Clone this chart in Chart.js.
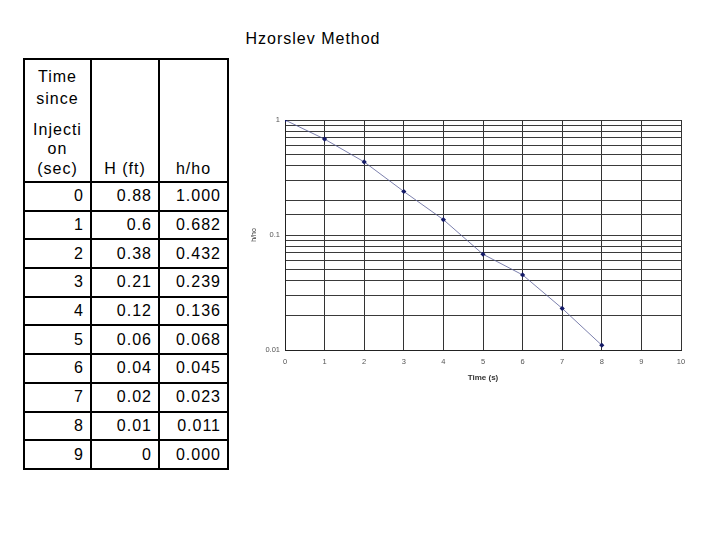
<!DOCTYPE html>
<html>
<head>
<meta charset="utf-8">
<script src="https://cdn.jsdelivr.net/npm/chart.js@4.4.1/dist/chart.umd.min.js"></script>
<style>
  html, body { margin: 0; padding: 0; background: #fff; }
  body { width: 720px; height: 540px; position: relative; overflow: hidden;
         font-family: "Liberation Sans", Arial, sans-serif; color: #000; }
  #title { position: absolute; left: 0; width: 626px; top: 29px; text-align: center;
           font-size: 16px; letter-spacing: 1px; line-height: 20px; }
  table { position: absolute; left: 23px; top: 58px; border-collapse: collapse;
          table-layout: fixed; width: 206px; font-size: 16px; letter-spacing: 1px; }
  td { border: 2px solid #000; padding: 0; }
  tr.head td { height: 118px; vertical-align: bottom; text-align: center; padding-bottom: 3px; }
  tr.row td { height: 26.7px; text-align: right; padding-right: 6px; vertical-align: middle; line-height: 18px; }
  .l1 { line-height: 22px; }
  .l2 { line-height: 19.5px; margin-top: 10px; }
  #wrap { position: absolute; left: 246px; top: 100px; width: 454px; height: 300px; }
</style>
</head>
<body>
<div id="title">Hzorslev Method</div>
<table id="tbl">
  <colgroup><col style="width:67px"><col style="width:68px"><col style="width:69px"></colgroup>
  <tbody id="tbody">
    <tr class="head">
      <td><div class="l1">Time<br>since</div><div class="l2">Injecti<br>on<br>(sec)</div></td>
      <td><div class="l2">H (ft)</div></td>
      <td><div class="l2">h/ho</div></td>
    </tr>
  </tbody>
</table>
<div id="wrap"><canvas id="c"></canvas></div>
<script>
const times = [0, 1, 2, 3, 4, 5, 6, 7, 8, 9];
const headFt = [0.88, 0.6, 0.38, 0.21, 0.12, 0.06, 0.04, 0.02, 0.01, 0];
const hRatio = [1.000, 0.682, 0.432, 0.239, 0.136, 0.068, 0.045, 0.023, 0.011, 0.000];
const xTitle = 'Time (s)';
const yTitle = 'h/ho';

// Table
const tbody = document.getElementById('tbody');
times.forEach((t, i) => {
  const tr = document.createElement('tr');
  tr.className = 'row';
  [String(t), String(headFt[i]), hRatio[i].toFixed(3)].forEach(txt => {
    const td = document.createElement('td');
    td.textContent = txt;
    tr.appendChild(td);
  });
  tbody.appendChild(tr);
});

// Chart
const pts = times.map((t, i) => ({x: t, y: hRatio[i]})).filter(p => p.y > 0);
const tickFont = {family: 'Liberation Sans, Arial, sans-serif', size: 7.5};
new Chart(document.getElementById('c'), {
  type: 'scatter',
  data: {
    datasets: [{
      data: pts,
      showLine: true,
      borderColor: '#5a6098',
      borderWidth: 0.8,
      backgroundColor: '#141a66',
      pointBackgroundColor: '#141a66',
      pointBorderColor: '#141a66',
      pointStyle: 'rectRot',
      pointRadius: 2.6,
      pointBorderWidth: 0
    }]
  },
  options: {
    responsive: true,
    maintainAspectRatio: false,
    animation: false,
    layout: {padding: {left: 0, right: 19, top: 20, bottom: 0}},
    plugins: {legend: {display: false}, tooltip: {enabled: false}},
    scales: {
      x: {
        type: 'linear', min: 0, max: 10,
        ticks: {stepSize: 1, color: '#555', font: tickFont, padding: 7, maxRotation: 0, autoSkip: false},
        grid: {color: '#333', lineWidth: 1, drawTicks: false},
        border: {color: '#222', width: 1},
        title: {display: true, text: xTitle, color: '#333',
                font: {family: 'Liberation Sans, Arial, sans-serif', size: 8, weight: 'bold'},
                padding: {top: 0, bottom: 17.5}},
        afterFit: s => { s.height = 50; }
      },
      y: {
        type: 'logarithmic', min: 0.01, max: 1,
        ticks: {
          color: '#555', font: tickFont, padding: 5, autoSkip: false,
          callback: v => {
            const l = Math.log10(v);
            return Math.abs(l - Math.round(l)) < 1e-6 ? String(+v.toPrecision(3)) : '';
          }
        },
        grid: {color: '#3a3a3a', lineWidth: 1, drawTicks: false},
        border: {color: '#222', width: 1},
        title: {display: true, text: yTitle, color: '#333',
                font: {family: 'Liberation Sans, Arial, sans-serif', size: 7},
                padding: {top: 4, bottom: 0}},
        afterFit: s => { s.width = 39; }
      }
    }
  }
});
</script>
</body>
</html>
